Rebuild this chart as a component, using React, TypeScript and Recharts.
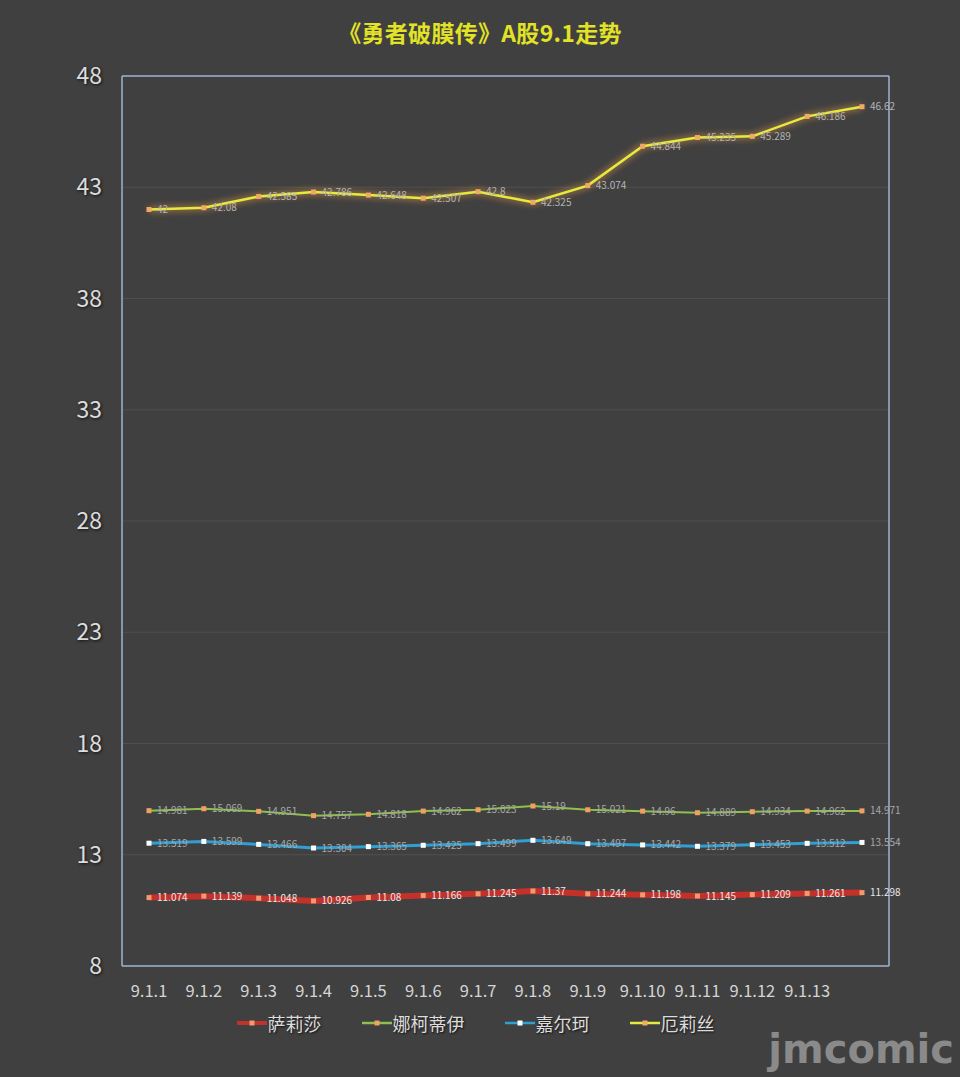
import { CartesianGrid, LabelList, Legend, Line, LineChart, XAxis, YAxis } from 'recharts';

const days = ['9.1.1', '9.1.2', '9.1.3', '9.1.4', '9.1.5', '9.1.6', '9.1.7', '9.1.8', '9.1.9', '9.1.10', '9.1.11', '9.1.12', '9.1.13', ''];
const salisha = [11.074, 11.139, 11.048, 10.926, 11.08, 11.166, 11.245, 11.37, 11.244, 11.198, 11.145, 11.209, 11.261, 11.298];
const nakediyi = [14.981, 15.069, 14.951, 14.757, 14.818, 14.962, 15.023, 15.19, 15.021, 14.96, 14.889, 14.934, 14.962, 14.971];
const jiaerke = [13.519, 13.599, 13.466, 13.304, 13.365, 13.425, 13.499, 13.649, 13.497, 13.442, 13.379, 13.453, 13.512, 13.554];
const elisi = [42, 42.08, 42.585, 42.786, 42.648, 42.507, 42.8, 42.325, 43.074, 44.844, 45.235, 45.289, 46.186, 46.62];
const yTicks = [8, 13, 18, 23, 28, 33, 38, 43, 48];

const data = days.map((day, i) => ({
  day,
  salisha: salisha[i],
  nakediyi: nakediyi[i],
  jiaerke: jiaerke[i],
  elisi: elisi[i],
}));

const series = [
  { key: 'salisha', name: '萨莉莎', color: '#c4302a', dot: '#f09a70', width: 6, label: '#e6e6e6' },
  { key: 'nakediyi', name: '娜柯蒂伊', color: '#8fbf4f', dot: '#f0a060', width: 2, label: '#a8a8a8' },
  { key: 'jiaerke', name: '嘉尔珂', color: '#2f9fd4', dot: '#ffffff', width: 3, label: '#a8a8a8' },
  { key: 'elisi', name: '厄莉丝', color: '#e6ea3a', dot: '#f2a866', width: 2.5, label: '#b4b4b4' },
];

const font = '"Noto Sans CJK SC", "Noto Sans", sans-serif';

function SquareDot(props: any) {
  const { cx, cy, fill } = props;
  if (cx == null || cy == null) return null;
  return <rect x={cx - 2.5} y={cy - 2.5} width={5} height={5} fill={fill} />;
}

function LegendContent() {
  return (
    <div style={{ display: 'flex', justifyContent: 'center', gap: 40, marginLeft: 62, paddingTop: 4, fontFamily: font }}>
      {series.map((s) => (
        <div key={s.key} style={{ display: 'flex', alignItems: 'center', color: '#dcdcdc', fontSize: 18, textShadow: '1px 1px 2px #111' }}>
          <svg width={30} height={10} style={{ marginRight: 1 }}>
            <line x1={0} y1={5} x2={30} y2={5} stroke={s.color} strokeWidth={s.width > 3 ? 4 : 2.5} />
            <rect x={12.5} y={2.5} width={5} height={5} fill={s.dot} />
          </svg>
          {s.name}
        </div>
      ))}
    </div>
  );
}

// border of the plot area, taken from the chart's own offset
const edgesX = ({ offset }: any) => [offset.left, offset.left + offset.width];
const edgesY = ({ offset }: any) => [offset.top, offset.top + offset.height];

export default function App() {
  return (
    <div style={{ position: 'fixed', left: 0, top: 0, width: 960, height: 1077, background: '#404040', fontFamily: font }}>
      <div
        style={{
          position: 'absolute',
          top: 15,
          width: 960,
          textAlign: 'center',
          color: '#e2e226',
          fontWeight: 'bold',
          fontSize: 23,
          letterSpacing: 0.3,
        }}
      >
        《勇者破膜传》A股9.1走势
      </div>
      <LineChart width={960} height={1077} data={data} margin={{ top: 76, right: 71, left: 0, bottom: 35 }}>
        <defs>
          <filter id="glow" x="-10%" y="-50%" width="120%" height="200%">
            <feGaussianBlur in="SourceGraphic" stdDeviation="3.5" result="blur" />
            <feFlood floodColor="#f0a050" floodOpacity="0.6" />
            <feComposite in2="blur" operator="in" result="glowColor" />
            <feMerge>
              <feMergeNode in="glowColor" />
              <feMergeNode in="glowColor" />
              <feMergeNode in="SourceGraphic" />
            </feMerge>
          </filter>
        </defs>
        <CartesianGrid stroke="#4f4f4f" vertical={false} />
        <CartesianGrid
          stroke="#9db2cf"
          strokeWidth={1.5}
          verticalCoordinatesGenerator={edgesX}
          horizontalCoordinatesGenerator={edgesY}
        />
        <XAxis
          dataKey="day"
          height={40}
          padding={{ left: 27, right: 27 }}
          axisLine={false}
          tickLine={false}
          interval={0}
          tick={{ fill: '#d4d4d4', fontSize: 16.5, fontFamily: font }}
          tickMargin={13}
        />
        <YAxis
          width={122}
          domain={[8, 48]}
          ticks={yTicks}
          axisLine={false}
          tickLine={false}
          tickMargin={14}
          tick={{ fill: '#dcdcdc', fontSize: 23, fontFamily: font, style: { textShadow: '1px 1px 3px #111' } }}
        />
        <Legend verticalAlign="bottom" height={36} content={<LegendContent />} />
        {series.map((s) => (
          <Line
            key={s.key}
            dataKey={s.key}
            name={s.name}
            stroke={s.color}
            strokeWidth={s.width}
            isAnimationActive={false}
            filter={s.key === 'elisi' ? 'url(#glow)' : undefined}
            dot={<SquareDot fill={s.dot} />}
            activeDot={false}
          >
            <LabelList
              dataKey={s.key}
              position="right"
              offset={8}
              fill={s.label}
              fontSize={10}
              fontFamily={font}
            />
          </Line>
        ))}
      </LineChart>
      <div
        style={{
          position: 'absolute',
          right: 6,
          bottom: 8,
          color: '#8a8a8a',
          fontFamily: '"DejaVu Sans", sans-serif',
          fontWeight: 'bold',
          fontSize: 40,
          lineHeight: 1,
        }}
      >
        jmcomic
      </div>
    </div>
  );
}
